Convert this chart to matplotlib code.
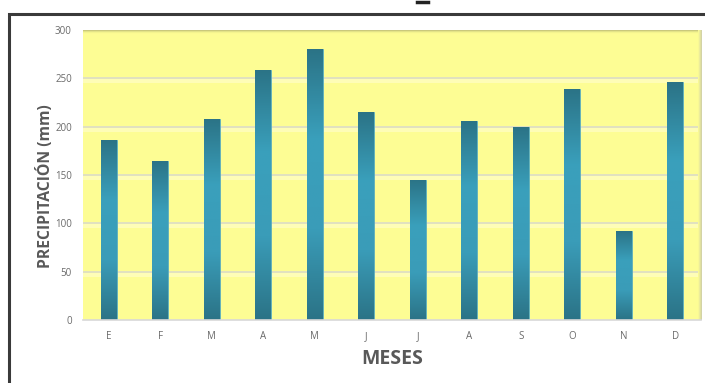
import numpy as np
import matplotlib.pyplot as plt
from matplotlib.patches import Rectangle
from matplotlib.colors import LinearSegmentedColormap
from matplotlib.lines import Line2D

plt.rcParams['font.family'] = ['Open Sans', 'DejaVu Sans']

# Precipitación mensual (mm)
meses = ['E', 'F', 'M', 'A', 'M', 'J', 'J', 'A', 'S', 'O', 'N', 'D']
precipitacion = [186, 165, 208, 259, 280, 215, 145, 206, 200, 239, 92, 246]
yticks = [0, 50, 100, 150, 200, 250, 300]

W, H = 705, 383
fig = plt.figure(figsize=(W / 100, H / 100), dpi=100)
fig.patch.set_facecolor('white')

# marco exterior del gráfico
fig.add_artist(Rectangle((8.5 / W, -0.05), 1.1, 1 - 13.5 / H + 0.05,
                         transform=fig.transFigure, fill=False,
                         edgecolor='#3a3a3a', linewidth=2.2, clip_on=False))
fig.add_artist(Line2D([417 / W, 428 / W], [1 - 1.5 / H, 1 - 1.5 / H],
                      transform=fig.transFigure, color='#222222', linewidth=2.5))

left, right, top, bottom = 83, 701, 30, 320
ax = fig.add_axes([left / W, 1 - bottom / H, (right - left) / W, (bottom - top) / H])
ax.set_facecolor('#fdfd94')

x = np.arange(len(meses))
ax.set_xlim(-0.5, len(meses) - 0.5)
ax.set_ylim(0, 300)

# líneas de cuadrícula con un brillo claro debajo
for v in yticks[1:-1]:
    ax.axhspan(v - 5, v - 1, color='#fffdc0', alpha=0.8, lw=0, zorder=0.5)
    ax.axhline(v, color='#dcdcc8', lw=1.2, zorder=0.6)

# sombra del borde superior y derecho
shade = np.linspace(0, 1, 20).reshape(-1, 1) ** 2
ax.imshow(shade, extent=(-0.5, len(meses) - 0.5, 295.5, 300), aspect='auto',
          cmap=LinearSegmentedColormap.from_list('s', ['#fdfd94', '#9a9866']),
          origin='lower', zorder=0.7)
ax.imshow(np.linspace(0, 1, 10).reshape(1, -1),
          extent=(len(meses) - 0.56, len(meses) - 0.5, 0, 300), aspect='auto',
          cmap=LinearSegmentedColormap.from_list('r', ['#fdfd94', '#d0d0a8']),
          zorder=0.7)

bars = ax.bar(x, precipitacion, width=0.31, color='#2f8aa3',
              edgecolor='#5fb0c0', linewidth=0.6, zorder=2)

# degradado vertical: oscuro arriba y abajo, claro al centro
cmap = LinearSegmentedColormap.from_list(
    'barra', ['#2b7386', '#3a9cb8', '#3aa0bc', '#2b7386'])
grad = np.linspace(0, 1, 256).reshape(-1, 1)
for b in bars:
    x0, w, h = b.get_x(), b.get_width(), b.get_height()
    im = ax.imshow(grad, extent=(x0, x0 + w, 0, h), aspect='auto', cmap=cmap,
                   origin='lower', zorder=2.5)
    im.set_clip_path(b)
ax.set_xlim(-0.5, len(meses) - 0.5)
ax.set_ylim(0, 300)

ax.set_xticks(x)
ax.set_xticklabels(meses)
ax.set_yticks(yticks)
ax.tick_params(axis='both', length=0, labelsize=7, colors='#6a6a6a')
ax.tick_params(axis='x', pad=8)
ax.tick_params(axis='y', pad=8)

for s in ['top', 'right', 'left']:
    ax.spines[s].set_visible(False)
ax.spines['bottom'].set_color('#d8d8d8')
ax.spines['bottom'].set_linewidth(1.2)

ax.set_ylabel('PRECIPITACIÓN (mm)', fontsize=11.3, fontweight='bold',
              color='#595959')
ax.yaxis.set_label_coords(-0.047, 0.462)
ax.set_xlabel('MESES', fontsize=14, fontweight='bold', color='#595959',
              labelpad=5)

fig.savefig('out.png', dpi=100)
